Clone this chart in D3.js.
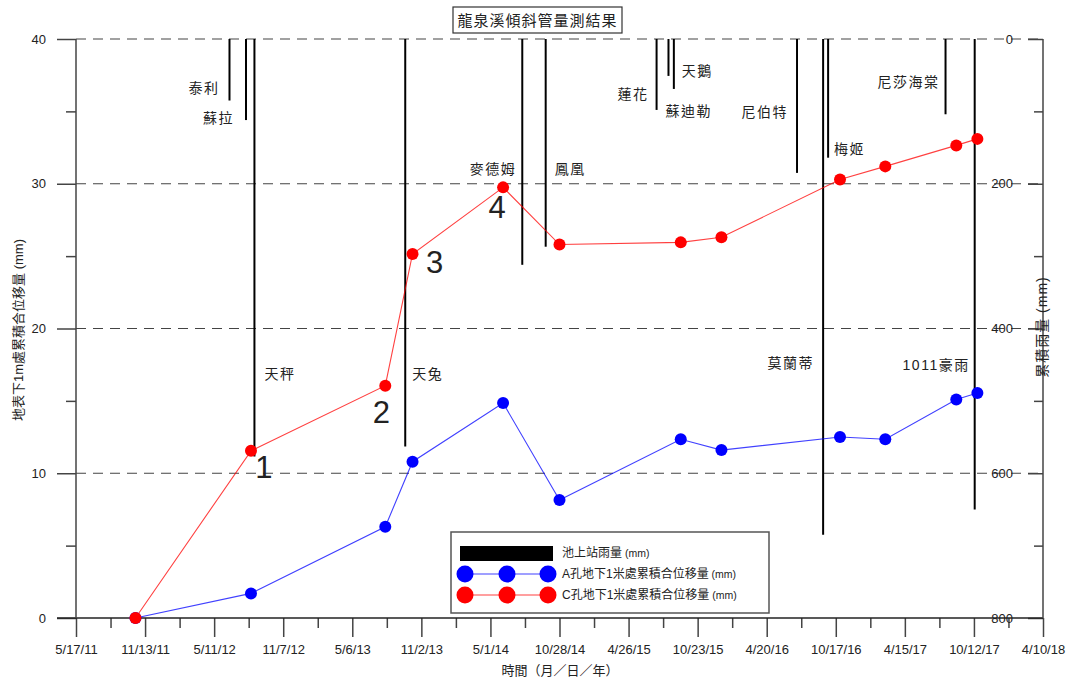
<!DOCTYPE html>
<html>
<head>
<meta charset="utf-8">
<script src="https://cdn.jsdelivr.net/npm/d3@7"></script>
<style>
  body { margin: 0; background: #fff; }
  svg { display: block; }
  text { font-family: "Liberation Sans", "Noto Sans CJK TC", sans-serif; fill: #222; }
</style>
</head>
<body>
<svg width="1069" height="684"></svg>
<script>
// x axis tick labels (every 180 days)
const tickLabels = ["5/17/11", "11/13/11", "5/11/12", "11/7/12", "5/6/13", "11/2/13", "5/1/14",
  "10/28/14", "4/26/15", "10/23/15", "4/20/16", "10/17/16", "4/15/17", "10/12/17", "4/10/18"];

// survey dates and cumulative displacement (mm)
const obsDates = ["2011-10-19", "2012-08-15", "2013-07-31", "2013-10-10", "2014-06-03", "2014-10-28",
  "2015-09-09", "2015-12-24", "2016-10-28", "2017-02-23", "2017-08-27", "2017-10-21"];
const holeA = [0, 1.7, 6.3, 10.8, 14.85, 8.15, 12.35, 11.6, 12.5, 12.35, 15.1, 15.55];
const holeC = [0, 11.55, 16.05, 25.15, 29.75, 25.8, 25.95, 26.3, 30.3, 31.2, 32.65, 33.1];

// typhoon / storm rainfall at 池上站 (mm)
const typhoonNames = ["泰利", "蘇拉", "天秤", "天兔", "麥德姆", "鳳凰", "蓮花", "蘇迪勒", "天鵝",
  "尼伯特", "莫蘭蒂", "梅姬", "尼莎海棠", "1011豪雨"];
const typhoonDates = ["2012-06-20", "2012-08-02", "2012-08-24", "2013-09-21", "2014-07-23", "2014-09-22",
  "2015-07-08", "2015-08-08", "2015-08-22", "2016-07-08", "2016-09-14", "2016-09-27", "2017-07-30", "2017-10-14"];
const typhoonRain = [85, 112, 577, 563, 312, 287, 98, 51, 69, 185, 685, 164, 104, 650];

// stage numbers placed beside red points
const stageLabels = ["1", "2", "3", "4"];
const stageIndex = [1, 2, 3, 4];

// label layout for typhoon names: [anchor, dx from bar, y]
const nameLayout = [["end", -10, 88], ["end", -12, 118], ["start", 10, 374], ["start", 7, 374],
  ["end", -6, 169], ["start", 9, 169], ["end", -8, 94], ["start", -3, 111], ["start", 8, 71],
  ["end", -9, 112], ["end", -9, 363], ["start", 6, 149], ["end", -6, 82], ["end", -5, 365]];
const stageOffset = [[13, 17], [-4, 27], [22, 9], [-6, 20]];

const parse = d3.timeParse("%Y-%m-%d");
const parseTick = d3.timeParse("%m/%d/%y");
const tickDates = tickLabels.map(parseTick);

const svg = d3.select("svg");
const plotLeft = 76, plotRight = 1043, plotTop = 39, plotBottom = 618;

const x = d3.scaleTime().domain([tickDates[0], tickDates[tickDates.length - 1]]).range([plotLeft, plotRight]);
const y = d3.scaleLinear().domain([0, 40]).range([plotBottom, plotTop]);
const yR = d3.scaleLinear().domain([0, 800]).range([plotTop, plotBottom]);

//dashed grid lines
svg.append("g").selectAll("line").data([10, 20, 30, 40]).enter().append("line")
  .attr("x1", plotLeft).attr("x2", plotRight)
  .attr("y1", d => y(d)).attr("y2", d => y(d))
  .attr("stroke", "#444").attr("stroke-width", 1.2).attr("stroke-dasharray", "10,7");

//rain bars hanging from the top
svg.append("g").selectAll("line").data(typhoonRain).enter().append("line")
  .attr("x1", (d, i) => x(parse(typhoonDates[i]))).attr("x2", (d, i) => x(parse(typhoonDates[i])))
  .attr("y1", yR(0)).attr("y2", d => yR(d))
  .attr("stroke", "#000").attr("stroke-width", 2);

svg.append("g").selectAll("text").data(typhoonNames).enter().append("text")
  .attr("x", (d, i) => x(parse(typhoonDates[i])) + nameLayout[i][1])
  .attr("y", (d, i) => nameLayout[i][2])
  .attr("text-anchor", (d, i) => nameLayout[i][0])
  .attr("dominant-baseline", "central")
  .attr("font-size", 14).attr("letter-spacing", 1.5)
  .text(d => d);

// axes
svg.append("g").attr("transform", `translate(0,${plotBottom})`)
  .call(d3.axisBottom(x).tickValues(tickDates).tickFormat((d, i) => tickLabels[i]).tickSize(19).tickPadding(8));
const minorDates = tickDates.slice(0, -1).map(d => d3.timeDay.offset(d, 90));
svg.append("g").attr("transform", `translate(0,${plotBottom})`)
  .call(d3.axisBottom(x).tickValues(minorDates).tickFormat("").tickSize(10));

svg.append("g").attr("transform", `translate(${plotLeft},0)`)
  .call(d3.axisLeft(y).tickValues([0, 10, 20, 30, 40]).tickSize(19).tickPadding(11));
svg.append("g").attr("transform", `translate(${plotLeft},0)`)
  .call(d3.axisLeft(y).tickValues([5, 15, 25, 35]).tickFormat("").tickSize(10));

svg.append("g").attr("transform", `translate(${plotRight},0)`)
  .call(d3.axisLeft(yR).tickValues([0, 200, 400, 600, 800]).tickSize(15).tickPadding(15));
svg.append("g").attr("transform", `translate(${plotRight},0)`)
  .call(d3.axisLeft(yR).tickValues([100, 300, 500, 700]).tickFormat("").tickSize(9));

svg.selectAll(".domain").remove();
svg.selectAll(".tick line").attr("stroke", "#444").attr("stroke-width", 1.5);
svg.selectAll(".tick text").attr("font-size", 13).attr("fill", "#222");

// axis frame lines
svg.append("line").attr("x1", plotLeft - 19).attr("x2", plotRight).attr("y1", plotBottom).attr("y2", plotBottom)
  .attr("stroke", "#222").attr("stroke-width", 1.5);
svg.append("line").attr("x1", plotLeft).attr("x2", plotLeft).attr("y1", plotTop).attr("y2", plotBottom)
  .attr("stroke", "#444").attr("stroke-width", 1.5);
svg.append("line").attr("x1", plotRight).attr("x2", plotRight).attr("y1", plotTop).attr("y2", plotBottom)
  .attr("stroke", "#444").attr("stroke-width", 1.5);

// series
const series = [
  { vals: holeA, color: "#0000ff" },
  { vals: holeC, color: "#ff0000" },
];
const line = d3.line().x((d, i) => x(parse(obsDates[i]))).y(d => y(d));
series.forEach(s => {
  svg.append("path").datum(s.vals).attr("d", line)
    .attr("fill", "none").attr("stroke", s.color).attr("stroke-opacity", 0.75).attr("stroke-width", 1.1);
  svg.append("g").selectAll("circle").data(s.vals).enter().append("circle")
    .attr("cx", (d, i) => x(parse(obsDates[i]))).attr("cy", d => y(d))
    .attr("r", 6).attr("fill", s.color);
});

// stage numbers
svg.append("g").selectAll("text").data(stageLabels).enter().append("text")
  .attr("x", (d, i) => x(parse(obsDates[stageIndex[i]])) + stageOffset[i][0])
  .attr("y", (d, i) => y(holeC[stageIndex[i]]) + stageOffset[i][1])
  .attr("text-anchor", "middle").attr("dominant-baseline", "central")
  .attr("font-family", "Noto Sans, sans-serif").attr("font-size", 31).attr("fill", "#000")
  .text(d => d);

// title box
svg.append("rect").attr("x", 453).attr("y", 7).attr("width", 169).attr("height", 26)
  .attr("fill", "#fff").attr("stroke", "#333").attr("stroke-width", 1.2);
svg.append("text").attr("x", 537.5).attr("y", 20.5).attr("text-anchor", "middle")
  .attr("dominant-baseline", "central").attr("font-size", 15).attr("letter-spacing", 1)
  .text("龍泉溪傾斜管量測結果");

// axis titles
svg.append("text").attr("x", 560).attr("y", 670).attr("text-anchor", "middle")
  .attr("dominant-baseline", "central").attr("font-size", 13).text("時間（月／日／年）");
svg.append("text").attr("transform", "translate(18,330) rotate(-90)").attr("text-anchor", "middle")
  .attr("dominant-baseline", "central").attr("font-size", 13).text("地表下1m處累積合位移量 (mm)");
svg.append("text").attr("transform", "translate(1042,327) rotate(-90)").attr("text-anchor", "middle")
  .attr("dominant-baseline", "central").attr("font-size", 14).attr("letter-spacing", 1).text("累積雨量 (mm)");

// legend
const lg = svg.append("g").attr("transform", "translate(451,532)");
lg.append("rect").attr("width", 318).attr("height", 81).attr("fill", "#fff")
  .attr("stroke", "#555").attr("stroke-width", 1.5);
lg.append("rect").attr("x", 9).attr("y", 14).attr("width", 93).attr("height", 15).attr("fill", "#000");
const legendItems = [
  { label: "池上站雨量", color: null },
  { label: "A孔地下1米處累積合位移量", color: "#0000ff" },
  { label: "C孔地下1米處累積合位移量", color: "#ff0000" },
];
legendItems.forEach((it, i) => {
  const cy = 21 + i * 21;
  if (it.color) {
    lg.append("line").attr("x1", 14).attr("x2", 97).attr("y1", cy).attr("y2", cy)
      .attr("stroke", it.color).attr("stroke-opacity", 0.75).attr("stroke-width", 1.1);
    [14, 56, 97].forEach(cx => lg.append("circle").attr("cx", cx).attr("cy", cy).attr("r", 8.5).attr("fill", it.color));
  }
  const t = lg.append("text").attr("x", 111).attr("y", cy).attr("dominant-baseline", "central")
    .attr("font-size", 12).text(it.label);
  t.append("tspan").attr("font-size", 10.5).text(" (mm)");
});
</script>
</body>
</html>
